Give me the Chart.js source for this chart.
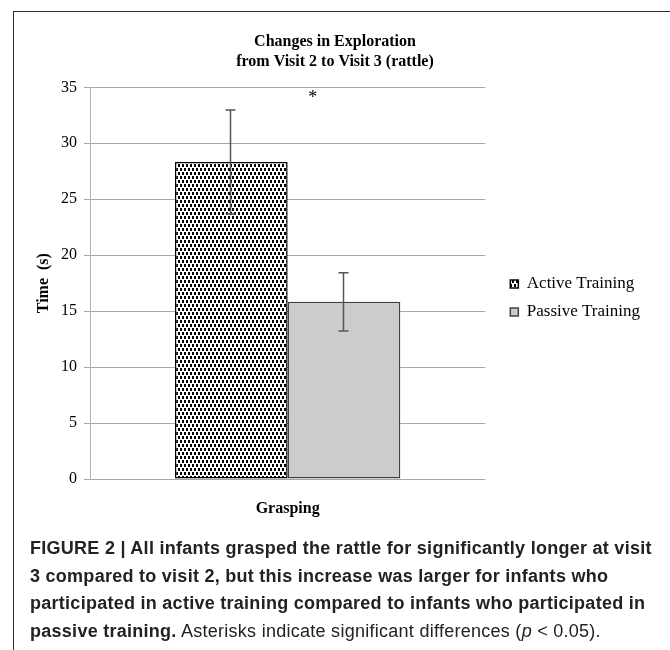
<!DOCTYPE html>
<html>
<head>
<meta charset="utf-8">
<script src="https://cdn.jsdelivr.net/npm/chart.js@4.4.1/dist/chart.umd.min.js"></script>
<style>
    body { margin: 0; background: #fff; width: 670px; height: 650px; overflow: hidden; position: relative; }
    #frame { position: absolute; left: 13px; top: 11px; width: 700px; height: 700px;
             border-left: 1px solid #333; border-top: 1px solid #333; }
    #chart { position: absolute; left: 0; top: 0; }
    #caption { position: absolute; left: 30px; top: 535px; width: 640px;
               font-family: "Liberation Sans", Arial, sans-serif;
               font-size: 18px; letter-spacing: 0.27px; line-height: 27.5px; color: #222; white-space: nowrap; }
    #caption b { font-weight: bold; }
    #caption span { font-weight: normal; }
</style>
</head>
<body>
<div id="frame"></div>
<canvas id="chart" width="670" height="596"></canvas>
<div id="caption">
    <b>FIGURE 2 | All infants grasped the rattle for significantly longer at visit</b><br>
    <b>3 compared to visit 2, but this increase was larger for infants who</b><br>
    <b>participated in active training compared to infants who participated in</b><br>
    <b>passive training.</b> <span>Asterisks indicate significant differences (<i>p</i> &lt; 0.05).</span>
</div>
<script>
// 数据
var categories = ['Grasping'];
var seriesNames = ['Active Training', 'Passive Training'];
var activeValues = [28.33];
var passiveValues = [15.83];
var activeErrors = [4.65];
var passiveErrors = [2.6];
var sigMarks = ['*'];
var sigValues = [33.6];
var yMin = 0, yMax = 35, yStep = 5;

var serif = '"Liberation Serif", "Times New Roman", serif';

// 点阵填充图案
function makeDotPattern() {
    var c = document.createElement('canvas');
    c.width = 4;
    c.height = 8;
    var g = c.getContext('2d');
    g.fillStyle = '#fff';
    g.fillRect(0, 0, 4, 8);
    g.fillStyle = '#000';
    g.fillRect(0, 0, 2, 3);
    g.fillRect(2, 4, 2, 3);
    return g.createPattern(c, 'repeat');
}

var dotPattern = makeDotPattern();

// 误差线 + 显著性标记
var errorBarsPlugin = {
    id: 'errorBars',
    afterDatasetsDraw: function(chart) {
        var ctx = chart.ctx;
        var yScale = chart.scales.y;
        ctx.save();
        ctx.strokeStyle = '#555';
        ctx.lineWidth = 1.5;
        chart.data.datasets.forEach(function(ds, i) {
            var meta = chart.getDatasetMeta(i);
            meta.data.forEach(function(bar, j) {
                var v = ds.data[j];
                var e = ds.errors[j];
                var yTop = yScale.getPixelForValue(v + e);
                var yBot = yScale.getPixelForValue(v - e);
                var x = Math.round(bar.x) - 0.5;
                ctx.beginPath();
                ctx.moveTo(x, yTop);
                ctx.lineTo(x, yBot);
                ctx.moveTo(x - 5, yTop);
                ctx.lineTo(x + 5, yTop);
                ctx.moveTo(x - 5, yBot);
                ctx.lineTo(x + 5, yBot);
                ctx.stroke();
            });
        });
        // 星号
        ctx.fillStyle = '#000';
        ctx.font = '18px ' + serif;
        ctx.textAlign = 'center';
        ctx.textBaseline = 'alphabetic';
        var xScale = chart.scales.x;
        sigMarks.forEach(function(m, j) {
            var x = xScale.getPixelForValue(j) + 25;
            ctx.fillText(m, x, yScale.getPixelForValue(sigValues[j]));
        });
        ctx.restore();
    }
};

new Chart(document.getElementById('chart'), {
    type: 'bar',
    data: {
        labels: categories,
        datasets: [{
            label: seriesNames[0],
            data: activeValues,
            errors: activeErrors,
            backgroundColor: dotPattern,
            borderColor: '#000',
            borderWidth: 1.5,
            borderSkipped: false
        }, {
            label: seriesNames[1],
            data: passiveValues,
            errors: passiveErrors,
            backgroundColor: '#cccccc',
            borderColor: '#404040',
            borderWidth: 1.5,
            borderSkipped: false
        }]
    },
    options: {
        responsive: false,
        animation: false,
        devicePixelRatio: 1,
        // 左右对称的留白让标题居中在整张图上
        layout: { padding: { left: 20, right: 20, top: 0, bottom: 0 } },
        datasets: { bar: { categoryPercentage: 0.57, barPercentage: 1.0 } },
        plugins: {
            title: {
                display: true,
                text: ['Changes in Exploration', 'from Visit 2 to Visit 3 (rattle)'],
                color: '#000',
                font: { family: serif, size: 16, weight: 'bold', lineHeight: 1.3 },
                padding: { top: 31, bottom: 14.7 }
            },
            legend: {
                position: 'right',
                labels: {
                    color: '#000',
                    font: { family: serif, size: 17 },
                    boxWidth: 8,
                    boxHeight: 8,
                    padding: 11
                }
            },
            tooltip: { enabled: false }
        },
        scales: {
            x: {
                grid: { display: false, drawTicks: false },
                border: { display: false },
                ticks: {
                    color: '#000',
                    font: { family: serif, size: 16, weight: 'bold' },
                    padding: 20
                },
                afterFit: function(s) { s.height = 117; }
            },
            y: {
                min: yMin,
                max: yMax,
                ticks: {
                    stepSize: yStep,
                    color: '#000',
                    font: { family: serif, size: 16 },
                    padding: 7
                },
                grid: { color: '#a6a6a6', lineWidth: 1, tickLength: 6 },
                border: { color: '#b0b0b0' },
                title: {
                    display: true,
                    text: 'Time  (s)',
                    color: '#000',
                    font: { family: serif, size: 16, weight: 'bold' },
                    padding: { top: 14.4, bottom: 0 }
                },
                afterFit: function(s) { s.width = 70; }
            },
            // 图例与绘图区之间的空隙
            gap: {
                type: 'linear',
                position: 'right',
                display: false,
                afterFit: function(s) { s.width = 14; }
            }
        }
    },
    plugins: [errorBarsPlugin]
});
</script>
</body>
</html>
